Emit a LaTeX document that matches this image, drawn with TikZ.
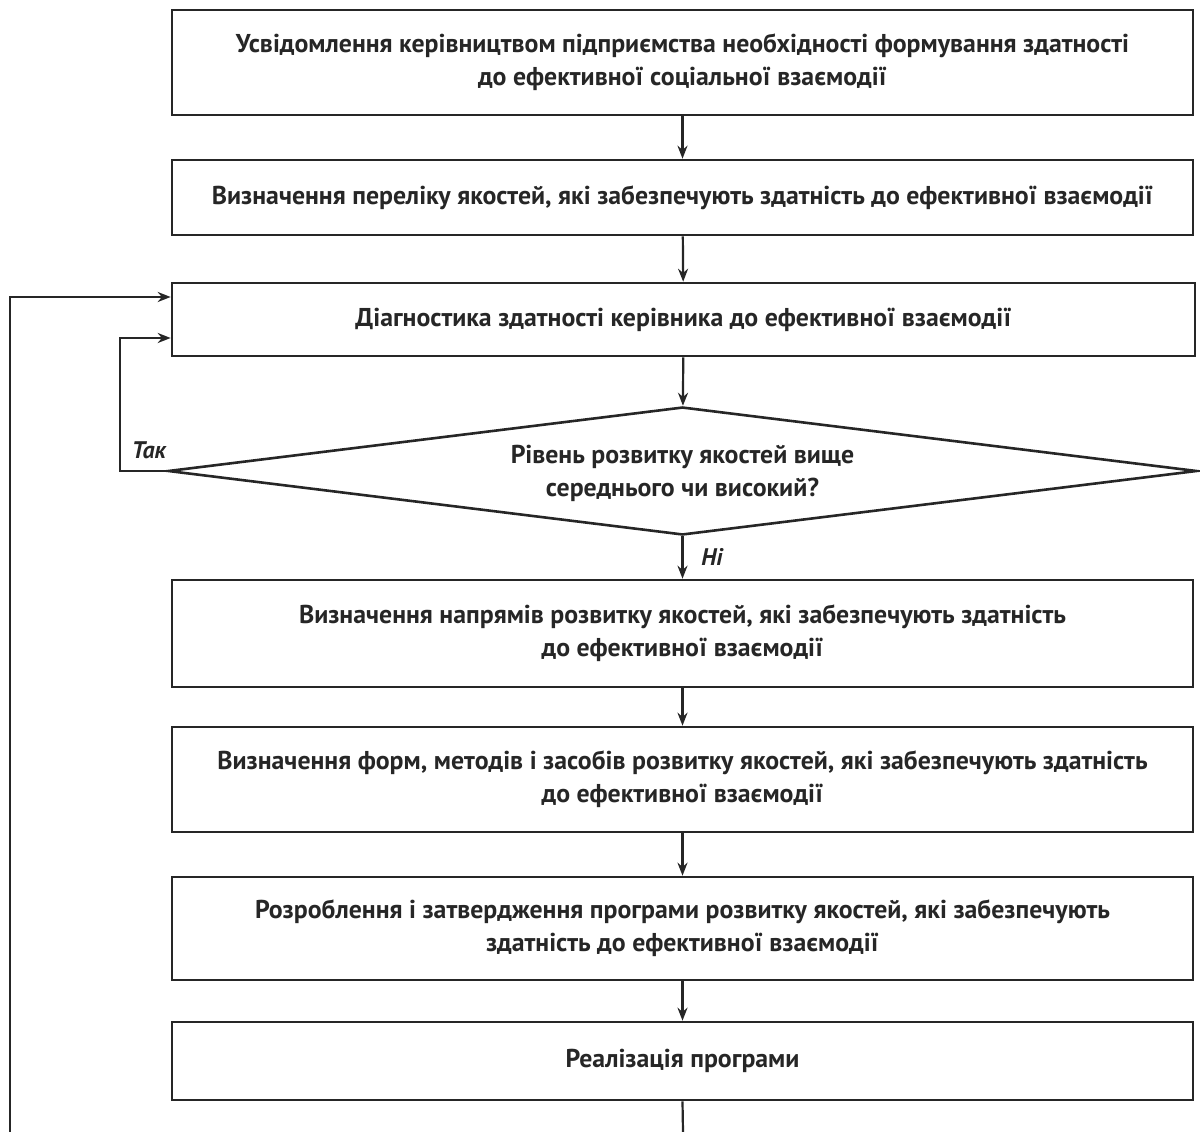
\documentclass[tikz,border=0pt]{standalone}
\usepackage{fontspec}
\setmainfont{PT Sans}
\usetikzlibrary{shapes.geometric,arrows.meta}
\begin{document}
\begin{tikzpicture}[x=1pt,y=-1pt,
  every node/.style={font=\fontsize{25.8}{33}\selectfont\bfseries, text=black!85},
  blk/.style={draw=black!85, line width=2.6pt, minimum width=1021pt, inner sep=0pt, align=center},
  conn/.style={draw=black!85, line width=2.2pt, -{Stealth[length=13pt,width=10pt]}},
  plain/.style={draw=black!85, line width=2.2pt},
  lbl/.style={font=\fontsize{24}{28}\selectfont\itshape\bfseries}]
\useasboundingbox (0,0) rectangle (1200,1132);
\node[blk, minimum height=105pt] (b1) at (682.5,62.5) {Усвідомлення керівництвом підприємства необхідності формування здатності\\до ефективної соціальної взаємодії};
\node[blk, minimum height=75pt] (b2) at (682.5,197.5) {Визначення переліку якостей, які забезпечують здатність до ефективної взаємодії};
\node[blk, minimum height=73pt, minimum width=1023pt] (b3) at (683.5,319.5) {Діагностика здатності керівника до ефективної взаємодії};
\node[draw=black!85, line width=2.6pt, shape=diamond, shape aspect=8, inner sep=0pt, minimum width=1029pt, minimum height=128pt] (d) at (682.5,471) {};
\node[align=center] (dt) at (682.5,473) {Рівень розвитку якостей вище\\середнього чи високий?};
\node[blk, minimum height=107pt] (b4) at (682.5,633.5) {Визначення напрямів розвитку якостей, які забезпечують здатність\\до ефективної взаємодії};
\node[blk, minimum height=105pt] (b5) at (682.5,779.5) {Визначення форм, методів і засобів розвитку якостей, які забезпечують здатність\\до ефективної взаємодії};
\node[blk, minimum height=103pt] (b6) at (682.5,928.5) {Розроблення і затвердження програми розвитку якостей, які забезпечують\\здатність до ефективної взаємодії};
\node[blk, minimum height=78pt] (b7) at (682.5,1061) {Реалізація програми};
\draw[conn] (b1) -- (b2);
\draw[conn] (b2) -- (b3);
\draw[conn] (b3) -- (d);
\draw[conn] (d) -- (b4);
\draw[conn] (b4) -- (b5);
\draw[conn] (b5) -- (b6);
\draw[conn] (b6) -- (b7);
\coordinate (bot) at (683,1132);
\draw[plain] (b7.south) -- (bot);
\coordinate (lb) at (10,1132);
\coordinate (t1) at (b3.west |- 0,297);
\draw[conn] (lb) |- (t1);
\coordinate (t2) at (b3.west |- 0,338);
\coordinate (lc) at (120,338);
\draw[conn] (d.west) -| (lc) -- (t2);
\node[lbl, anchor=center] (tak) at (149,450) {Так};
\node[lbl, anchor=center] (ni) at (712,557) {Ні};
\end{tikzpicture}
\end{document}
